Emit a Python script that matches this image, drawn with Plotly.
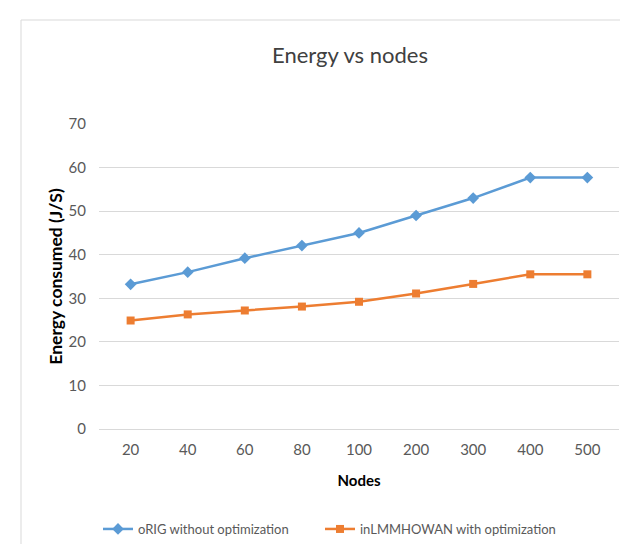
import plotly.graph_objects as go

nodes = ["20", "40", "60", "80", "100", "200", "300", "400", "500"]
orig_energy = [33.2, 36.0, 39.2, 42.1, 45.0, 49.0, 53.0, 57.7, 57.7]
inl_energy = [24.9, 26.3, 27.2, 28.1, 29.2, 31.1, 33.3, 35.5, 35.5]
series_names = ["oRIG without optimization", "inLMMHOWAN with optimization"]
y_ticks = [0, 10, 20, 30, 40, 50, 60, 70]

W, H = 628, 544
L, R, T, B = 91, 17, 116, 123
pw, ph = W - L - R, H - T - B

def px_x(p):
    return (p - L) / pw

def px_y(p):
    return (H - B - p) / ph

FONT = "Lato"
fig = go.Figure()
fig.add_trace(go.Scatter(x=nodes, y=orig_energy, name=series_names[0], mode="lines+markers",
                         line=dict(color="#5B9BD5", width=2.5),
                         marker=dict(symbol="diamond", size=9, color="#5B9BD5"), legend="legend"))
fig.add_trace(go.Scatter(x=nodes, y=inl_energy, name=series_names[1], mode="lines+markers",
                         line=dict(color="#ED7D31", width=2.5),
                         marker=dict(symbol="square", size=8, color="#ED7D31"), legend="legend2"))

leg_common = dict(orientation="h", xref="container", yref="container", yanchor="middle",
                  xanchor="left", font=dict(size=13, color="#595959", family=FONT),
                  itemwidth=30, bgcolor="rgba(0,0,0,0)")

fig.update_layout(
    width=W, height=H,
    margin=dict(l=L, r=R, t=T, b=B, autoexpand=False),
    paper_bgcolor="white", plot_bgcolor="white",
    font=dict(family=FONT, color="#595959", size=15),
    title=dict(text="Energy vs nodes", x=342 / W, xanchor="center", y=1 - 47 / H, yanchor="middle",
               font=dict(size=22, color="#404040", family=FONT)),
    xaxis=dict(type="category", showgrid=False, showline=True, linecolor="#d9d9d9",
               ticks="", ticklabelstandoff=7, tickfont=dict(size=15, color="#595959"), automargin=False,
               title=dict(text="<b>Nodes</b>", font=dict(size=15, color="#000000"), standoff=18)),
    yaxis=dict(range=[0, 70], tickvals=y_ticks, showgrid=True, gridcolor="#d9d9d9", gridwidth=1,
               zeroline=False, showline=False, ticks="", ticklabelstandoff=12, automargin=False,
               tickfont=dict(size=15, color="#595959"),
               title=dict(text="<b>Energy consumed (J/S)</b>", font=dict(size=17.5, color="#000000"), standoff=1)),
    legend=dict(**leg_common, x=90 / W, y=1 - 521 / H),
    legend2=dict(**leg_common, x=312 / W, y=1 - 521 / H),
    showlegend=True,
)

fig.add_shape(type="rect", xref="paper", yref="paper",
              x0=px_x(13), x1=px_x(640), y0=px_y(560), y1=px_y(12),
              line=dict(color="#d9d9d9", width=1), fillcolor="rgba(0,0,0,0)", layer="below")

fig.write_html("out.html")
